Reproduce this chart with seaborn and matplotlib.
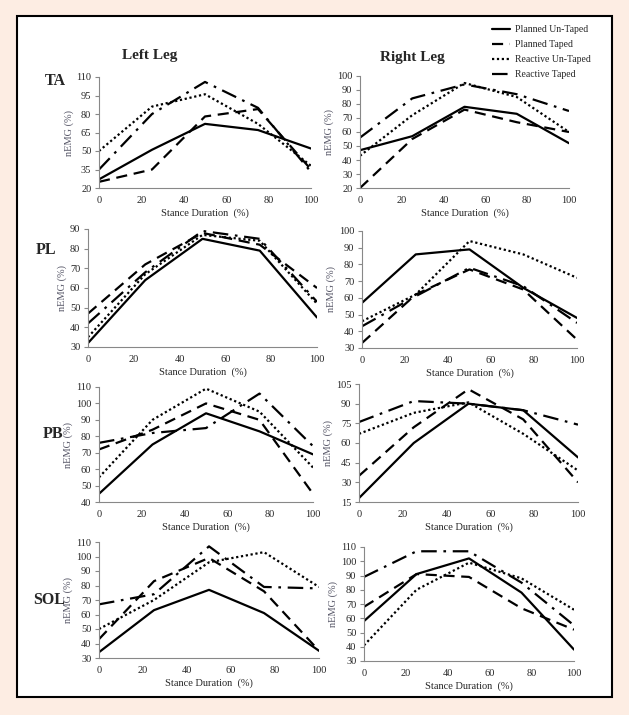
import matplotlib
matplotlib.use("Agg")
import matplotlib.pyplot as plt
from matplotlib.lines import Line2D
from matplotlib.patches import Rectangle
import seaborn as sns
import pandas as pd

sns.set_style("white")
plt.rcParams['font.family'] = ['Liberation Serif', 'DejaVu Serif']

stance = [0, 25, 50, 75, 100]
conditions = ["Planned Un-Taped", "Planned Taped", "Reactive Un-Taped", "Reactive Taped"]
muscles = ["TA", "PL", "PB", "SOL"]

# Left leg
ta_left = {"Planned Un-Taped": [27, 51, 72, 67, 52],
           "Planned Taped": [25, 35, 78, 84, 35],
           "Reactive Un-Taped": [50, 86, 96, 72, 38],
           "Reactive Taped": [35, 80, 106, 85, 33]}
pl_left = {"Planned Un-Taped": [32, 64, 85, 79, 45],
           "Planned Taped": [47, 72, 88, 82, 60],
           "Reactive Un-Taped": [35, 67, 87, 84, 52],
           "Reactive Taped": [42, 68, 89, 85, 53]}
pb_left = {"Planned Un-Taped": [45, 75, 94, 83, 69],
           "Planned Taped": [72, 84, 100, 90, 45],
           "Reactive Un-Taped": [55, 90, 109, 95, 61],
           "Reactive Taped": [76, 82, 85, 106, 74]}
sol_left = {"Planned Un-Taped": [34, 63, 77, 61, 35],
            "Planned Taped": [43, 83, 99, 76, 35],
            "Reactive Un-Taped": [50, 70, 96, 103, 79],
            "Reactive Taped": [67, 74, 107, 79, 78]}
# Right leg
ta_right = {"Planned Un-Taped": [47, 57, 78, 73, 52],
            "Planned Taped": [20, 55, 76, 67, 60],
            "Reactive Un-Taped": [43, 72, 95, 85, 60],
            "Reactive Taped": [56, 84, 94, 87, 75]}
pl_right = {"Planned Un-Taped": [57, 86, 89, 66, 48],
            "Planned Taped": [33, 62, 77, 65, 35],
            "Reactive Un-Taped": [46, 62, 94, 86, 72],
            "Reactive Taped": [43, 61, 78, 67, 45]}
pb_right = {"Planned Un-Taped": [18, 60, 90, 85, 49],
            "Planned Taped": [35, 72, 101, 78, 30],
            "Reactive Un-Taped": [67, 83, 91, 67, 39],
            "Reactive Taped": [76, 92, 90, 85, 74]}
sol_right = {"Planned Un-Taped": [58, 91, 102, 78, 38],
             "Planned Taped": [68, 91, 89, 67, 52],
             "Reactive Un-Taped": [41, 80, 99, 88, 66],
             "Reactive Taped": [89, 107, 107, 85, 55]}

left_data = [ta_left, pl_left, pb_left, sol_left]
right_data = [ta_right, pl_right, pb_right, sol_right]

left_yticks = [list(range(20, 111, 15)), list(range(30, 91, 10)),
               list(range(40, 111, 10)), list(range(30, 111, 10))]
right_yticks = [list(range(20, 101, 10)), list(range(30, 101, 10)),
                list(range(15, 106, 15)), list(range(30, 111, 10))]
xticks = [0, 20, 40, 60, 80, 100]

dash_map = {"Planned Un-Taped": "",
            "Planned Taped": (5, 3),
            "Reactive Un-Taped": (1, 1.2),
            "Reactive Taped": (7, 3, 1.2, 3)}

W, H = 629, 715
fig = plt.figure(figsize=(W / 100, H / 100), dpi=100)
fig.patch.set_facecolor("#fdede3")
fig.patches.append(Rectangle((17 / W, 1 - 697 / H), (612 - 17) / W, (697 - 16) / H,
                             transform=fig.transFigure, facecolor="white",
                             edgecolor="black", linewidth=1.5, zorder=-10))

def px_box(x0, x1, y0, y1):
    return [x0 / W, 1 - y1 / H, (x1 - x0) / W, (y1 - y0) / H]

left_boxes = [px_box(99, 311, 77, 188), px_box(88, 317, 229, 347),
              px_box(99, 313, 387, 502), px_box(99, 319, 542, 658)]
right_boxes = [px_box(360, 569, 76, 188), px_box(362, 577, 231, 348),
               px_box(359, 578, 384, 502), px_box(364, 574, 547, 661)]

def draw(box, data, yt):
    ax = fig.add_axes(box)
    ax.set_zorder(5)
    rows = []
    for c in conditions:
        for x, v in zip(stance, data[c]):
            rows.append({"x": x, "y": v, "cond": c})
    df = pd.DataFrame(rows)
    sns.lineplot(data=df, x="x", y="y", style="cond", style_order=conditions,
                 dashes=dash_map, color="black", linewidth=1.6, ax=ax, legend=False)
    ax.set_facecolor("none")
    ax.patch.set_alpha(0)
    ax.set_xlim(0, 100)
    ax.set_ylim(yt[0], yt[-1])
    ax.set_xticks(xticks)
    ax.set_yticks(yt)
    ax.tick_params(labelsize=7.5, length=3, width=0.8, color="#888888", pad=2.5,
                   direction="out", left=True, bottom=False)
    for s in ["top", "right"]:
        ax.spines[s].set_visible(False)
    for s in ["left", "bottom"]:
        ax.spines[s].set_color("#888888")
        ax.spines[s].set_linewidth(0.8)
    ax.set_xlabel("Stance Duration  (%)", fontsize=7.5, labelpad=3)
    ax.set_ylabel("nEMG (%)", fontsize=7.5, color="#555566", labelpad=2)
    return ax

for i in range(4):
    draw(left_boxes[i], left_data[i], left_yticks[i])
    draw(right_boxes[i], right_data[i], right_yticks[i])

fig.text(150 / W, 1 - 55 / H, "Left Leg", fontsize=11, fontweight="bold",
         ha="center", va="center")
fig.text(412 / W, 1 - 58 / H, "Right Leg", fontsize=11, fontweight="bold",
         ha="center", va="center")
row_labels_pos = [(45, 81), (36, 250), (43, 434), (33, 600)]
for m, (x, y) in zip(muscles, row_labels_pos):
    fig.text(x / W, 1 - y / H, m, fontsize=11.5, fontweight="bold",
             ha="left", va="center")

handles = []
for c in conditions:
    if dash_map[c]:
        handles.append(Line2D([0], [0], color="black", linewidth=1.6, dashes=dash_map[c]))
    else:
        handles.append(Line2D([0], [0], color="black", linewidth=1.6))
leg = fig.legend(handles, conditions, loc="upper left",
                 bbox_to_anchor=(487 / W, 1 - 20.5 / H), frameon=False,
                 fontsize=7, handlelength=1.9, handletextpad=0.5,
                 labelspacing=0.62, borderpad=0)

fig.savefig("out.png", dpi=100, facecolor=fig.get_facecolor())
